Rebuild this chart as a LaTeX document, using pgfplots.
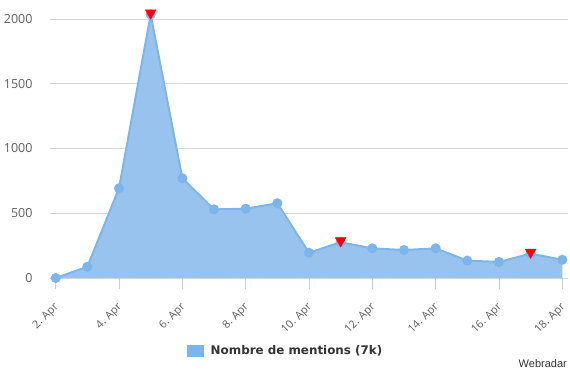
\documentclass[border=0pt]{standalone}
\usepackage{pgfplots}
\pgfplotsset{compat=1.18}
\usepackage{fontspec}
\setmainfont{Open Sans}
\newfontfamily\legendfont{DejaVu Sans}
\newfontfamily\wrfont{Liberation Sans}
\definecolor{hcblue}{RGB}{124,181,236}
\definecolor{hcfill}{RGB}{152,195,239}
\definecolor{gridc}{RGB}{216,216,216}
\definecolor{axisc}{RGB}{192,208,224}
\definecolor{labc}{RGB}{96,96,96}
\definecolor{legc}{RGB}{51,51,51}
\pgfplotstableread{
day val
2 0
3 87
4 693
5 2035
6 770
7 530
8 535
9 577
10 195
11 276
12 229
13 216
14 229
15 134
16 124
17 188
18 141
}\mentions
\pgfplotstableread{
day val
5 2035
11 276
17 188
}\flags
\begin{document}
\begin{tikzpicture}[x=1pt,y=1pt]
\useasboundingbox (0,0) rectangle (570,372);
\begin{axis}[
  at={(50pt,94pt)}, anchor=south west,
  scale only axis, width=518pt, height=259pt,
  xmin=1.82, xmax=18.18, ymin=0, ymax=2000,
  clip=false,
  axis line style={draw=none},
  ymajorgrids, grid style={color=gridc, line width=0.8pt},
  ytick={0,500,1000,1500,2000},
  ytick style={draw=none},
  xtick={2,4,...,18},
  xticklabels={2. Apr,4. Apr,6. Apr,8. Apr,10. Apr,12. Apr,14. Apr,16. Apr,18. Apr},
  xtick pos=left, xtick align=outside, major tick length=11pt,
  xtick style={color=axisc, line width=0.8pt},
  /pgf/number format/assume math mode=true,
  /pgf/number format/1000 sep={},
  yticklabel style={font=\fontsize{12.5}{14}\selectfont, text=labc, anchor=east, xshift=-14pt},
  xticklabel style={font=\fontsize{11}{13}\selectfont, text=labc, rotate=45, anchor=east, inner sep=0pt, xshift=-10.5pt, yshift=-12.5pt},
  legend style={at={(rel axis cs:0.4546,-0.2807)}, anchor=center, draw=none, fill=none,
    font=\legendfont\bfseries\fontsize{11.9}{14}\selectfont, text=legc},
]
\addplot[draw=none, fill=hcfill, area legend,
  legend image code/.code={\fill[hcblue] (0pt,-6pt) rectangle (17pt,6pt);}]
  table[x=day,y=val]{\mentions} \closedcycle;
\addlegendentry{\hspace*{5pt}Nombre de mentions (7k)}
\addplot[hcblue, line width=2pt, mark=*, mark size=4pt, mark options={fill=hcblue, draw=none}, forget plot]
  table[x=day,y=val]{\mentions};
\addplot[red, draw=none, only marks, mark=triangle*, mark size=6.2pt, mark options={fill=red, draw=none, yshift=1.5pt, rotate=180}, forget plot]
  table[x=day,y=val]{\flags};
\end{axis}
\node[anchor=east, font=\wrfont\fontsize{11}{13}\selectfont, text=legc, inner sep=0pt] at (567,8) {Webradar};
\end{tikzpicture}
\end{document}
